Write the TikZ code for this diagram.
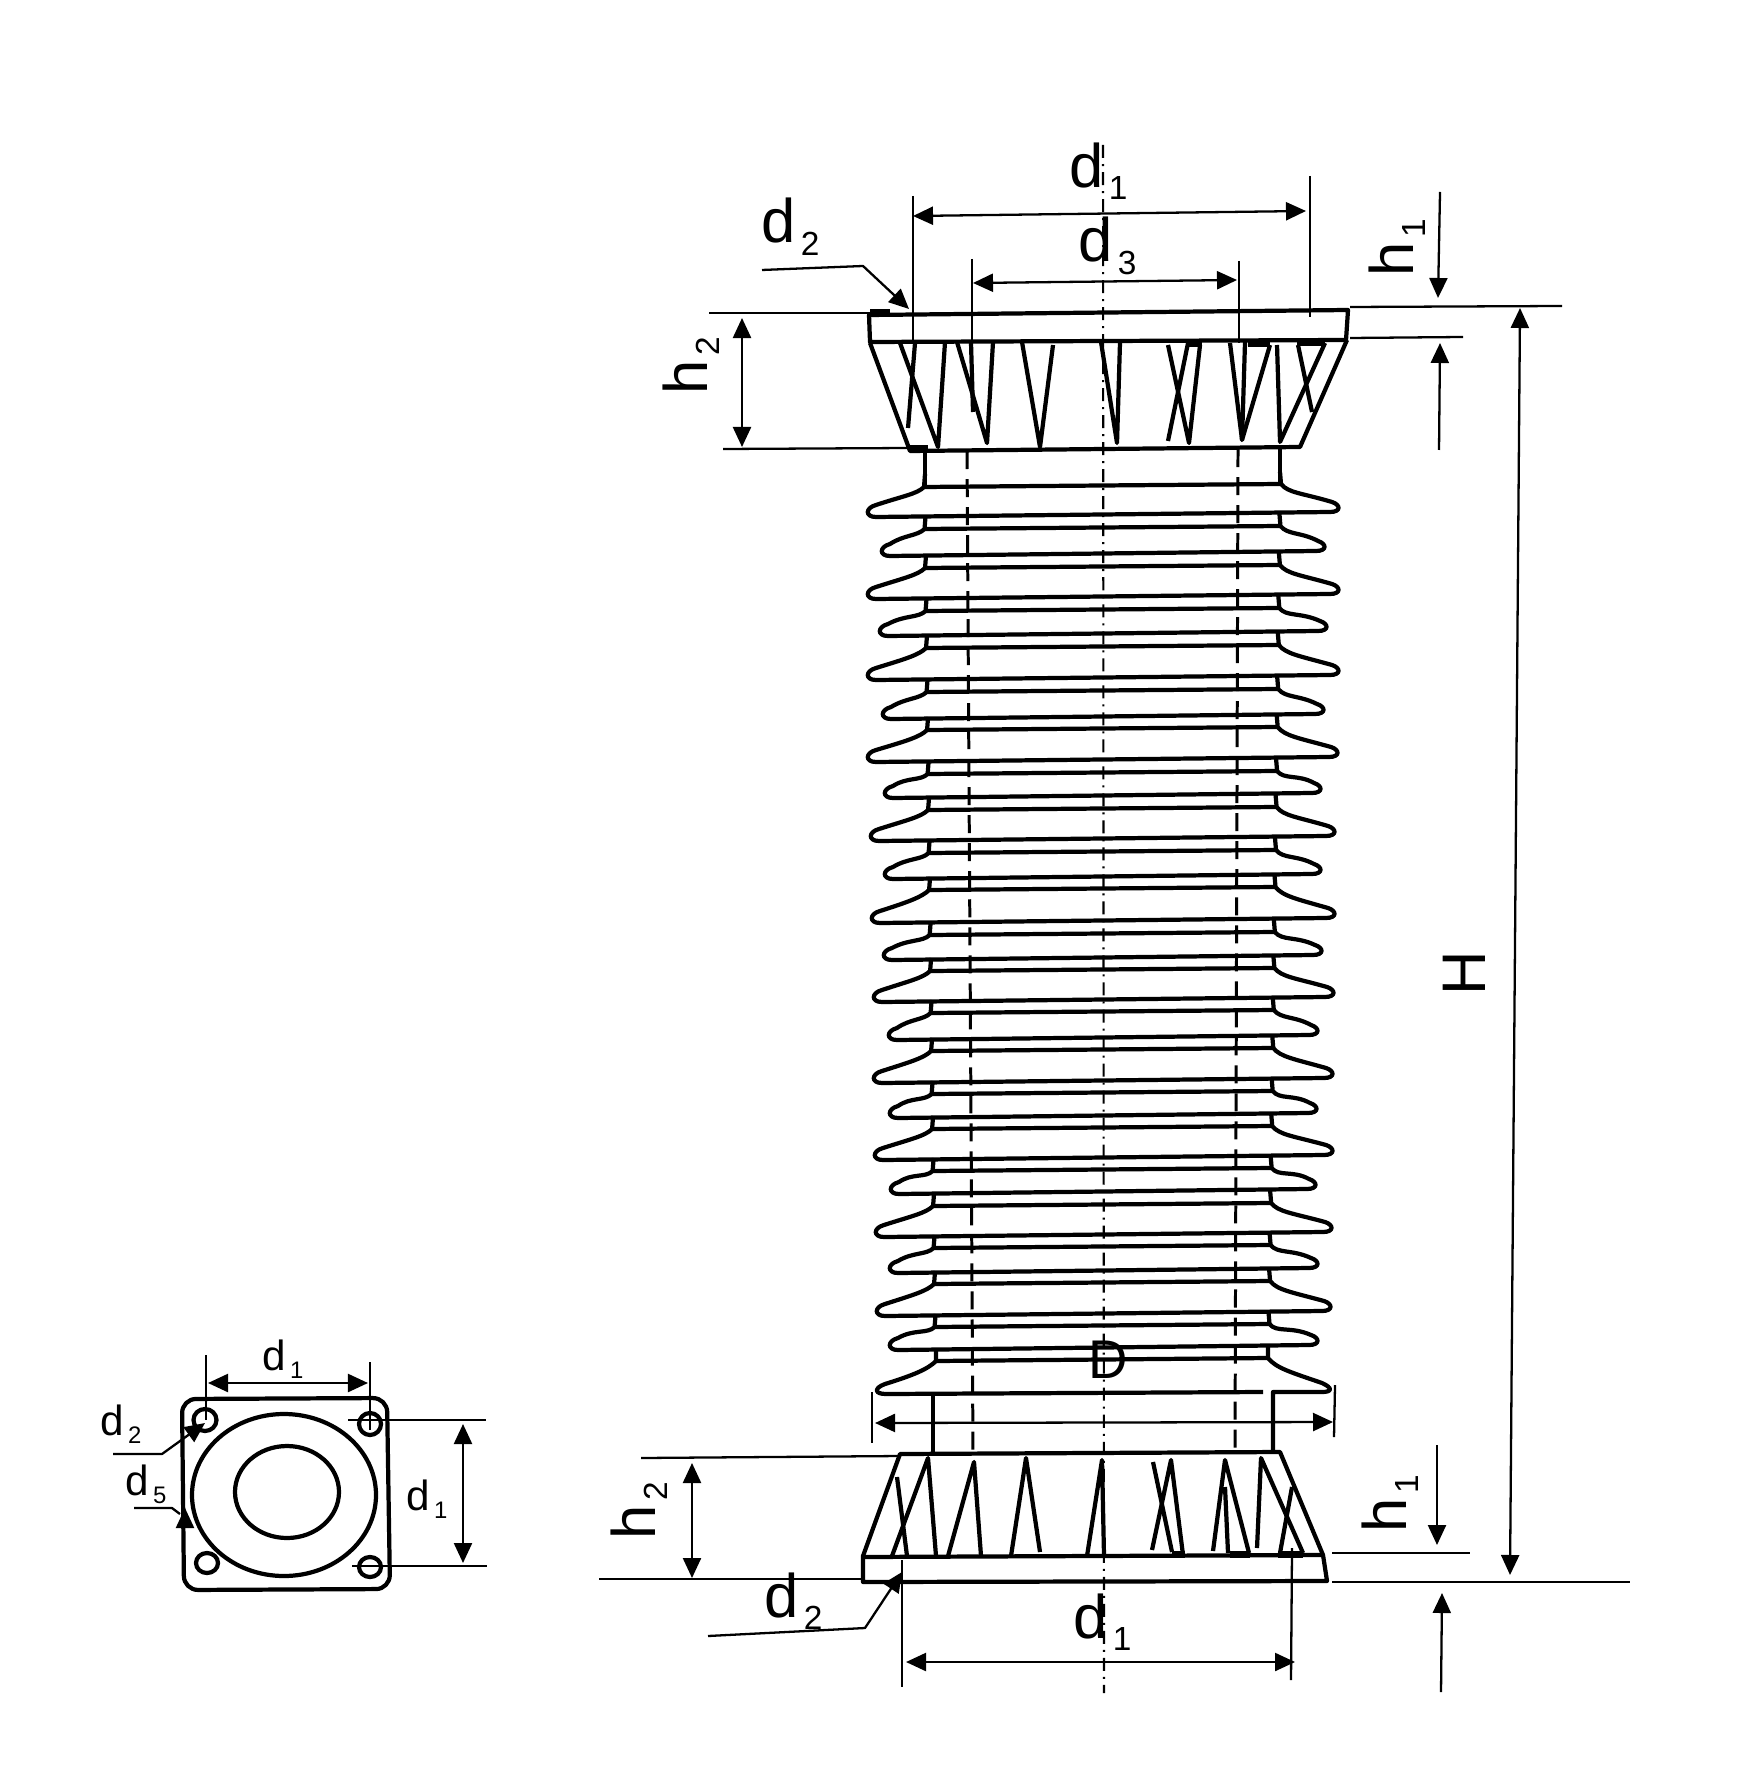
\documentclass[tikz,border=0pt]{standalone}
\usepackage{fontspec}
\setmainfont{Liberation Sans}
\usetikzlibrary{arrows.meta}
\newcommand{\biglab}[2]{{\fontsize{17.5}{17.5}\selectfont #1}\hspace{0.5mm}\raisebox{-1.2mm}{\fontsize{9.5}{9.5}\selectfont #2}}
\newcommand{\smalllab}[2]{{\fontsize{12}{12}\selectfont #1}\hspace{0.4mm}\raisebox{-0.8mm}{\fontsize{6.8}{6.8}\selectfont #2}}
\begin{document}
\begin{tikzpicture}[x=0.01cm,y=-0.01cm,line join=round,
  every node/.style={inner sep=0pt,anchor=base west},
  outline/.style={line width=1.2pt},
  heavy/.style={line width=2pt},
  thinline/.style={line width=0.65pt},
  dimline/.style={line width=0.65pt,{Triangle[length=2mm,width=1.8mm]}-{Triangle[length=2mm,width=1.8mm]}},
  oneway/.style={line width=0.65pt,-{Triangle[length=2mm,width=1.8mm]}},
  hidden/.style={line width=0.85pt,dash pattern=on 1.8mm off 1mm},
  axisline/.style={line width=0.6pt,dash pattern=on 1.3mm off 0.6mm on 0.2mm off 0.6mm}]
  \useasboundingbox (0,0) rectangle (1737,1792);

  % hidden lines and axis
  \draw[hidden] (967,451)--(973,1454);
  \draw[hidden] (1238,449)--(1235,1452);
  \draw[axisline] (1103,145)--(1104,1693);

  % top flange
  \draw[outline] (869,315)--(1348,310)--(1346,340)--(870,342)--cycle;
  \draw[outline] (870,343)--(910,451)--(1300,447)--(1347,340);
  \draw[outline] (900,343)--(938,447)--(945,342);
  \draw[outline] (915,343)--(908,428);
  \draw[outline] (957,342)--(987,443)--(993,342);
  \draw[outline] (971,343)--(973,412);
  \draw[outline] (1022,342)--(1040,447)--(1053,345);
  \draw[outline] (1101,342)--(1117,443)--(1120,342);
  \draw[outline] (1168,345)--(1189,443)--(1200,345);
  \draw[outline] (1188,343)--(1168,441);
  \draw[outline] (1230,343)--(1242,440)--(1270,345);
  \draw[outline] (1245,342)--(1242,440);
  \draw[outline] (1277,345)--(1280,442)--(1325,343);
  \draw[outline] (1298,345)--(1312,412);
  \draw[heavy] (1187,343)--(1202,343);
  \draw[heavy] (1248,343)--(1270,343);
  \draw[heavy] (1297,342)--(1325,342);
  \draw[heavy] (870,313)--(890,313);
  \draw[heavy] (910,449)--(928,449);

  % sheds
  \draw[outline] (925,450)--(925,486);
  \draw[outline] (1280,448)--(1280,484);
  \foreach \ytop/\ybot/\tipl/\tipr in {
    486/514/867/1338,528/553/881/1324,567/596/867/1338,610/633/879/1326,
    647/677/867/1338,691/716/882/1323,729/759/867/1337,773/795/884/1320,
    809/838/870/1334,852/876/884/1320,889/920/871/1334,934/957/883/1321,
    970/999/873/1333,1012/1037/888/1317,1050/1080/873/1332,1093/1115/889/1316,
    1128/1157/874/1332,1170/1191/890/1315,1205/1234/875/1331,1247/1270/889/1317,
    1283/1313/876/1330,1326/1347/889/1317}{
    \pgfmathsetmacro{\nl}{925+(\ytop-486)*0.0126}
    \pgfmathsetmacro{\nr}{1280-(\ytop-486)*0.0137}
    \draw[outline] (\nl,\ytop-12)--(\nl-1,\ytop+1) .. controls (\nl-8,\ytop+8) and (\nl-22,\ybot-18) .. (\tipl+9,\ybot-9)
      .. controls (\tipl-2,\ybot-6) and (\tipl-2,\ybot+3) .. (\tipl+9,\ybot+3)
      --(\tipr-8,\ybot-2) .. controls (\tipr+3,\ybot-2) and (\tipr+3,\ybot-9) .. (\tipr-6,\ybot-12)
      .. controls (\nr+22,\ybot-21) and (\nr+8,\ytop+7) .. (\nr+1,\ytop-2)--(\nr,\ytop-14);
    \draw[outline] (\nl-1,\ytop+1)--(\nr+1,\ytop-2);
  }
  % last shed, its lower edge stops short of the right neck
  \draw[outline] (936,1348)--(936,1361) .. controls (928,1369) and (914,1375) .. (885,1384)
    .. controls (874,1388) and (874,1394) .. (886,1394)--(1263,1392);
  \draw[outline] (936,1361)--(1268,1358);
  \draw[outline] (1268,1345)--(1268,1358) .. controls (1276,1368) and (1290,1372) .. (1322,1383)
    .. controls (1333,1388) and (1332,1392) .. (1322,1392)--(1273,1392)--(1273,1452);
  \draw[outline] (933,1393)--(933,1454);

  % bottom flange
  \draw[outline] (900,1454)--(1280,1452)--(1323,1555)--(1327,1581)--(863,1582)--(863,1556)--cycle;
  \draw[outline] (863,1557)--(1323,1555);
  \draw[outline] (892,1556)--(928,1458)--(936,1556);
  \draw[outline] (897,1477)--(907,1556);
  \draw[outline] (948,1556)--(974,1462)--(981,1556);
  \draw[outline] (1011,1556)--(1026,1458)--(1040,1552);
  \draw[outline] (1087,1556)--(1102,1460)--(1104,1556);
  \draw[outline] (1152,1550)--(1171,1460)--(1183,1555);
  \draw[outline] (1153,1462)--(1172,1552);
  \draw[outline] (1213,1551)--(1225,1460)--(1249,1553);
  \draw[outline] (1225,1487)--(1228,1553);
  \draw[outline] (1257,1548)--(1261,1458)--(1303,1553);
  \draw[outline] (1280,1553)--(1292,1487);
  \draw[heavy] (1172,1554)--(1185,1554);
  \draw[heavy] (1230,1554)--(1250,1554);
  \draw[heavy] (1278,1554)--(1303,1554);

  % dimensions, top
  \draw[thinline] (913,196)--(913,342);
  \draw[thinline] (972,259)--(972,343);
  \draw[thinline] (1310,176)--(1310,317);
  \draw[thinline] (1239,261)--(1239,343);
  \draw[thinline] (709,313)--(890,313);
  \draw[thinline] (723,449)--(910,448);
  \draw[thinline] (1350,307)--(1562,306);
  \draw[thinline] (1350,338)--(1463,337);
  \draw[dimline] (913,216)--(1306,211);
  \draw[dimline] (973,283)--(1237,280);
  \draw[dimline] (742,318)--(742,447);
  \draw[oneway] (1440,192)--(1438,298);
  \draw[oneway] (1439,450)--(1440,343);
  \draw[dimline] (1520,308)--(1510,1575);
  \draw[oneway] (762,270)--(863,266)--(909,309);
  \node (topdone) at (1069,188) {\biglab{d}{1}};
  \node (topdthree) at (1078,262) {\biglab{d}{3}};
  \node (topdtwo) at (761,243) {\biglab{d}{2}};
  \node[rotate=90] (tophtwo) at (707,395) {\biglab{h}{2}};
  \node[rotate=90] (tophone) at (1413,277) {\biglab{h}{1}};
  \node[rotate=90] (totalh) at (1485,996) {\fontsize{17.5}{17.5}\selectfont H};

  % dimensions, bottom
  \draw[thinline] (872,1392)--(872,1443);
  \draw[thinline] (1335,1385)--(1334,1437);
  \draw[dimline] (875,1423)--(1333,1422);
  \draw[thinline] (641,1458)--(900,1456);
  \draw[thinline] (599,1579)--(862,1579);
  \draw[thinline] (1332,1553)--(1470,1553);
  \draw[thinline] (1332,1582)--(1630,1582);
  \draw[thinline] (902,1560)--(902,1687);
  \draw[thinline] (1292,1548)--(1291,1680);
  \draw[dimline] (692,1463)--(692,1578);
  \draw[dimline] (906,1662)--(1295,1662);
  \draw[oneway] (1437,1445)--(1437,1545);
  \draw[oneway] (1441,1692)--(1442,1593);
  \draw[oneway] (708,1636)--(865,1628)--(902,1572);
  \node (botD) at (1088,1378) {\fontsize{15.5}{15.5}\selectfont D};
  \node (botdone) at (1073,1638) {\biglab{d}{1}};
  \node (botdtwo) at (764,1617) {\biglab{d}{2}};
  \node[rotate=90] (bothtwo) at (655,1540) {\biglab{h}{2}};
  \node[rotate=90] (bothone) at (1406,1533) {\biglab{h}{1}};

  % plan view
  \draw[outline,rounded corners=1.4mm] (182,1399)--(387,1398)--(390,1589)--(184,1590)--cycle;
  \draw[outline] (284,1495) ellipse (92 and 81);
  \draw[outline] (287,1492) ellipse (52 and 46);
  \draw[outline] (205,1420) ellipse (11.5 and 11);
  \draw[outline] (370,1424) ellipse (11 and 11);
  \draw[outline] (207,1563) ellipse (11 and 10);
  \draw[outline] (370,1567) ellipse (11 and 10);
  \draw[thinline] (206,1355)--(206,1420);
  \draw[thinline] (370,1362)--(370,1430);
  \draw[thinline] (348,1420)--(486,1420);
  \draw[thinline] (352,1566)--(487,1566);
  \draw[dimline] (208,1383)--(368,1383);
  \draw[dimline] (463,1424)--(463,1563);
  \draw[oneway] (113,1454)--(162,1454)--(205,1423);
  \draw[thinline] (134,1508)--(172,1508)--(180,1514);
  \draw[oneway] (185,1521)--(185,1508);
  \node (plandone) at (262,1370) {\smalllab{d}{1}};
  \node (plandtwo) at (100,1435) {\smalllab{d}{2}};
  \node (plandfive) at (125,1495) {\smalllab{d}{5}};
  \node (plandoneb) at (406,1510) {\smalllab{d}{1}};
\end{tikzpicture}
\end{document}
